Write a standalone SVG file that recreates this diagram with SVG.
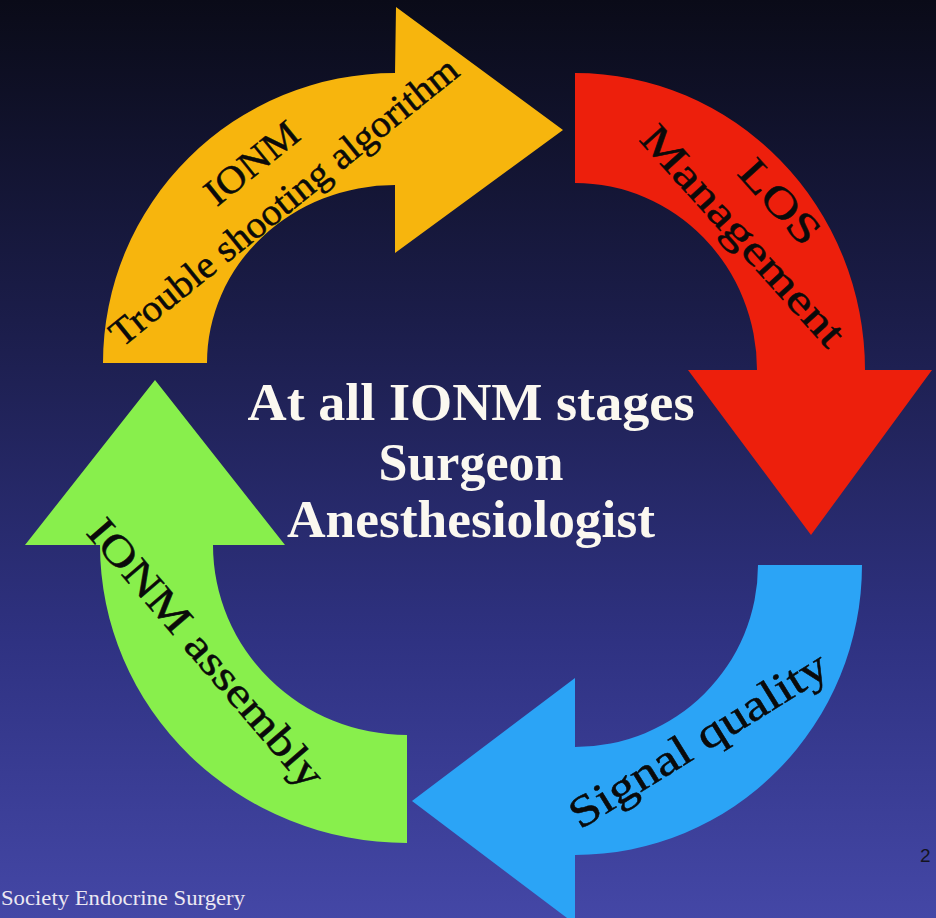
<svg xmlns="http://www.w3.org/2000/svg" width="936" height="918" viewBox="0 0 936 918">
  <defs>
    <linearGradient id="bg" x1="0" y1="0" x2="0" y2="1">
      <stop offset="0" stop-color="#0a0b18"/>
      <stop offset="0.35" stop-color="#1b1d4a"/>
      <stop offset="0.7" stop-color="#2f3282"/>
      <stop offset="1" stop-color="#4447a6"/>
    </linearGradient>
    <style>
      .lbl { font-family: "Liberation Serif", "Times New Roman", serif; fill: #0a0a0a; stroke: #0a0a0a; stroke-width: 0.5px; }
      .center { font-family: "Liberation Serif", "Times New Roman", serif; font-weight: bold; font-size: 52px; fill: #fbf8f0; text-anchor: middle; }
      .foot { font-family: "Liberation Serif", "Times New Roman", serif; font-size: 22px; fill: #ece8f2; }
    </style>
  </defs>
  <rect x="0" y="0" width="936" height="918" fill="url(#bg)"/>

  <g id="troubleshooting">
    <path d="M 103 363 A 292 290 0 0 1 395 73 L 396 7 L 563 130 L 395 253 L 395 185 A 188 178 0 0 0 207 363 Z" fill="#f7b50d"/>
    <g transform="translate(122,348) rotate(-38.9)">
      <text class="lbl" x="0" y="0" font-size="38" textLength="436" lengthAdjust="spacingAndGlyphs">Trouble shooting algorithm</text>
      <text class="lbl" x="217" y="-50" font-size="38" text-anchor="middle" textLength="110" lengthAdjust="spacingAndGlyphs">IONM</text>
    </g>
  </g>

  <g id="los-management">
    <path d="M 575 73 A 290 297 0 0 1 865 370 L 932 370 L 811 535 L 688 370 L 757 370 A 182 187 0 0 0 575 183 Z" fill="#ed1f0c"/>
    <g transform="translate(638,140) rotate(47.9)">
      <text class="lbl" x="0" y="0" font-size="42" textLength="283" lengthAdjust="spacingAndGlyphs">Management</text>
      <text class="lbl" x="91" y="-50" font-size="42" textLength="100" lengthAdjust="spacingAndGlyphs">LOS</text>
    </g>
  </g>

  <g id="signal-quality">
    <path d="M 862 565 A 287 290 0 0 1 575 855 L 575 924 L 412 801 L 575 678 L 575 747 A 183 182 0 0 0 758 565 Z" fill="#2ba4f6"/>
    <g transform="translate(580,830) rotate(-31.8)">
      <text class="lbl" x="0" y="0" font-size="44" textLength="296" lengthAdjust="spacingAndGlyphs">Signal quality</text>
    </g>
  </g>

  <g id="ionm-assembly">
    <path d="M 407 843 A 307 298 0 0 1 100 545 L 25 545 L 155 380 L 285 545 L 213 545 A 194 190 0 0 0 407 735 Z" fill="#88ef4c"/>
    <g transform="translate(85,533) rotate(49.4)">
      <text class="lbl" x="0" y="0" font-size="42" textLength="340" lengthAdjust="spacingAndGlyphs">IONM assembly</text>
    </g>
  </g>

  <g id="center-text">
    <text class="center" x="471" y="420" textLength="447" lengthAdjust="spacingAndGlyphs">At all IONM stages</text>
    <text class="center" x="471" y="480">Surgeon</text>
    <text class="center" x="471" y="537" textLength="368" lengthAdjust="spacingAndGlyphs">Anesthesiologist</text>
  </g>

  <g id="footer">
    <text class="foot" x="1" y="905" textLength="244" lengthAdjust="spacingAndGlyphs">Society Endocrine Surgery</text>
    <text x="920" y="862" font-family="Liberation Sans, Arial, sans-serif" font-size="19" fill="#141420">2</text>
  </g>
</svg>
